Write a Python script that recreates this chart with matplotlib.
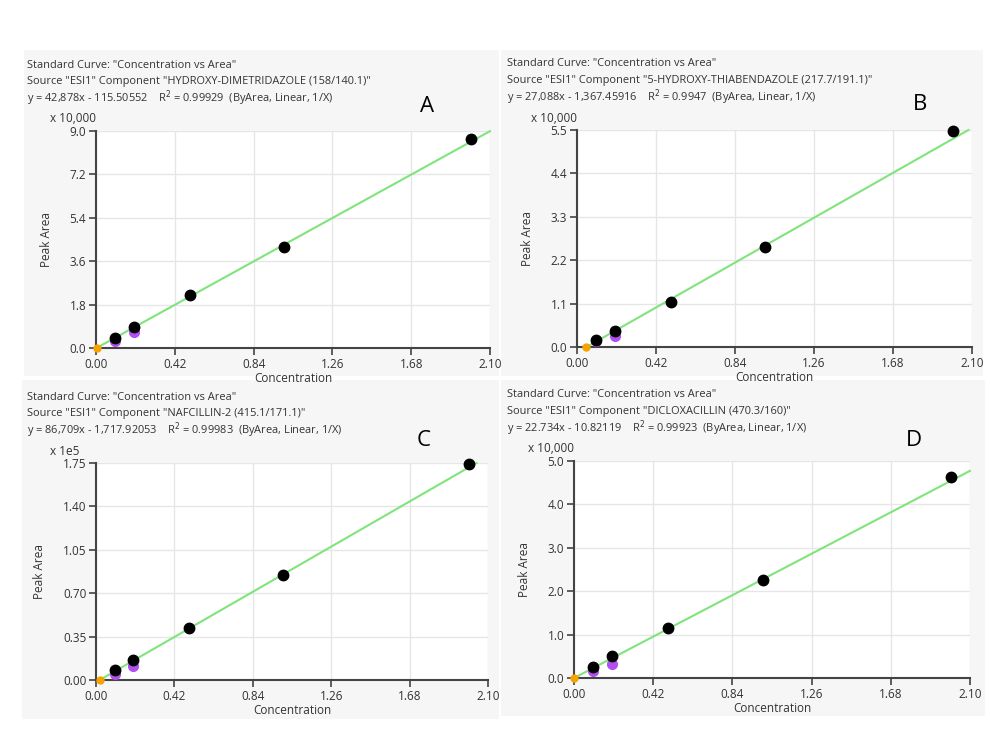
import matplotlib
matplotlib.use("Agg")
import matplotlib.pyplot as plt
from matplotlib.patches import Rectangle

plt.rcParams['font.family'] = ['Open Sans', 'DejaVu Sans']

W, H = 1000, 750

# calibration levels (concentration)
conc = [0.1, 0.2, 0.5, 1.0, 2.0]

# peak areas, in units of the axis multiplier
area_a = [0.43, 0.88, 2.20, 4.20, 8.67]
area_a_purple = [0.30, 0.66]
area_b = [0.18, 0.41, 1.13, 2.53, 5.48]
area_b_purple = [0.15, 0.29]
area_c = [0.08, 0.16, 0.42, 0.85, 1.74]
area_c_purple = [0.05, 0.11]
area_d = [0.26, 0.50, 1.16, 2.26, 4.63]
area_d_purple = [0.17, 0.33]

# fit: slope, intercept (in axis units)
fit_a = (4.2878, -0.011551)
fit_b = (2.7088, -0.136746)
fit_c = (0.86709, -0.017179)
fit_d = (2.2734, -0.001082)

titles = ['Standard Curve: "Concentration vs Area"'] * 4
sources = [
    'Source "ESI1" Component "HYDROXY-DIMETRIDAZOLE (158/140.1)"',
    'Source "ESI1" Component "5-HYDROXY-THIABENDAZOLE (217.7/191.1)"',
    'Source "ESI1" Component "NAFCILLIN-2 (415.1/171.1)"',
    'Source "ESI1" Component "DICLOXACILLIN (470.3/160)"',
]
equations = [
    'y = 42,878x - 115.50552    R$^2$ = 0.99929  (ByArea, Linear, 1/X)',
    'y = 27,088x - 1,367.45916    R$^2$ = 0.9947  (ByArea, Linear, 1/X)',
    'y = 86,709x - 1,717.92053    R$^2$ = 0.99983  (ByArea, Linear, 1/X)',
    'y = 22.734x - 10.82119    R$^2$ = 0.99923  (ByArea, Linear, 1/X)',
]
multipliers = ['x 10,000', 'x 10,000', 'x 1e5', 'x 10,000']
letters = ['A', 'B', 'C', 'D']
x_ticks = [0.0, 0.42, 0.84, 1.26, 1.68, 2.10]
y_ticks = [
    [0.0, 1.8, 3.6, 5.4, 7.2, 9.0],
    [0.0, 1.1, 2.2, 3.3, 4.4, 5.5],
    [0.0, 0.35, 0.70, 1.05, 1.40, 1.75],
    [0.0, 1.0, 2.0, 3.0, 4.0, 5.0],
]
y_fmt = ['{:.1f}', '{:.1f}', '{:.2f}', '{:.1f}']

# layout in pixels: panel box, axes box (left, top, right, bottom), header origin, letter pos
panels = [(24, 50, 499, 376), (501, 50, 983, 376), (22, 380, 499, 719), (501, 380, 985, 716)]
axes_px = [(96, 131, 490, 348), (577, 130, 972, 347), (96, 463, 488, 680), (574, 461, 970, 678)]
header_xy = [(27, 65), (507, 64), (27, 397), (507, 395)]
letter_xy = [(427, 106), (920, 104), (424, 440), (914, 441)]

areas = [area_a, area_b, area_c, area_d]
purples = [area_a_purple, area_b_purple, area_c_purple, area_d_purple]
fits = [fit_a, fit_b, fit_c, fit_d]

fig = plt.figure(figsize=(W / 100, H / 100), dpi=100)
fig.patch.set_facecolor('white')

text_col = '#333333'

for i in range(4):
    px0, py0, px1, py1 = panels[i]
    fig.patches.append(Rectangle((px0 / W, 1 - py1 / H), (px1 - px0) / W, (py1 - py0) / H,
                                 transform=fig.transFigure, facecolor='#f6f6f6',
                                 edgecolor='none', zorder=-10))

    hx, hy = header_xy[i]
    for k, line in enumerate([titles[i], sources[i], equations[i]]):
        fig.text(hx / W, 1 - (hy + 16.5 * k) / H, line, fontsize=7.9, color=text_col,
                 ha='left', va='center')
    lx, ly = letter_xy[i]
    fig.text(lx / W, 1 - ly / H, letters[i], fontsize=16, color='black', ha='center', va='center')

    l, t, r, b = axes_px[i]
    ax = fig.add_axes([l / W, 1 - b / H, (r - l) / W, (b - t) / H])
    ax.set_facecolor('white')
    ymax = y_ticks[i][-1]
    ax.set_xlim(0, 2.10)
    ax.set_ylim(0, ymax)

    slope, icpt = fits[i]
    x0 = max(0.0, -icpt / slope)
    x1 = min(2.10, (ymax - icpt) / slope)
    ax.plot([x0, x1], [slope * x0 + icpt, slope * x1 + icpt], color='#80e47c', lw=1.5,
            zorder=2, clip_on=False)
    ax.plot(conc[:2], purples[i], 'o', color='#b24ff0', ms=7, zorder=3, clip_on=False)
    ax.plot(conc, areas[i], 'o', color='black', ms=7.5, zorder=4, clip_on=False)
    ax.plot([x0], [0], 'o', color='#f5a300', ms=5, zorder=5, clip_on=False)

    ax.set_xticks(x_ticks)
    ax.set_xticklabels(['{:.2f}'.format(v) for v in x_ticks])
    ax.set_yticks(y_ticks[i])
    ax.set_yticklabels([y_fmt[i].format(v) for v in y_ticks[i]])
    ax.grid(True, color='#e6e6e6', lw=1)
    ax.set_axisbelow(True)
    for s in ['top', 'right']:
        ax.spines[s].set_visible(False)
    for s in ['left', 'bottom']:
        ax.spines[s].set_color('#444444')
        ax.spines[s].set_linewidth(1.5)
    ax.tick_params(direction='out', length=5, width=1.2, color='#444444',
                   labelsize=8.5, labelcolor=text_col, pad=2)
    ax.set_xlabel('Concentration', fontsize=8.5, color=text_col, labelpad=1)
    ax.set_ylabel('Peak Area', fontsize=8.5, color=text_col, labelpad=12)
    fig.text((l - 46) / W, 1 - (t - 12) / H, multipliers[i], fontsize=8.5, color=text_col,
             ha='left', va='center')

fig.savefig('out.png', dpi=100)
